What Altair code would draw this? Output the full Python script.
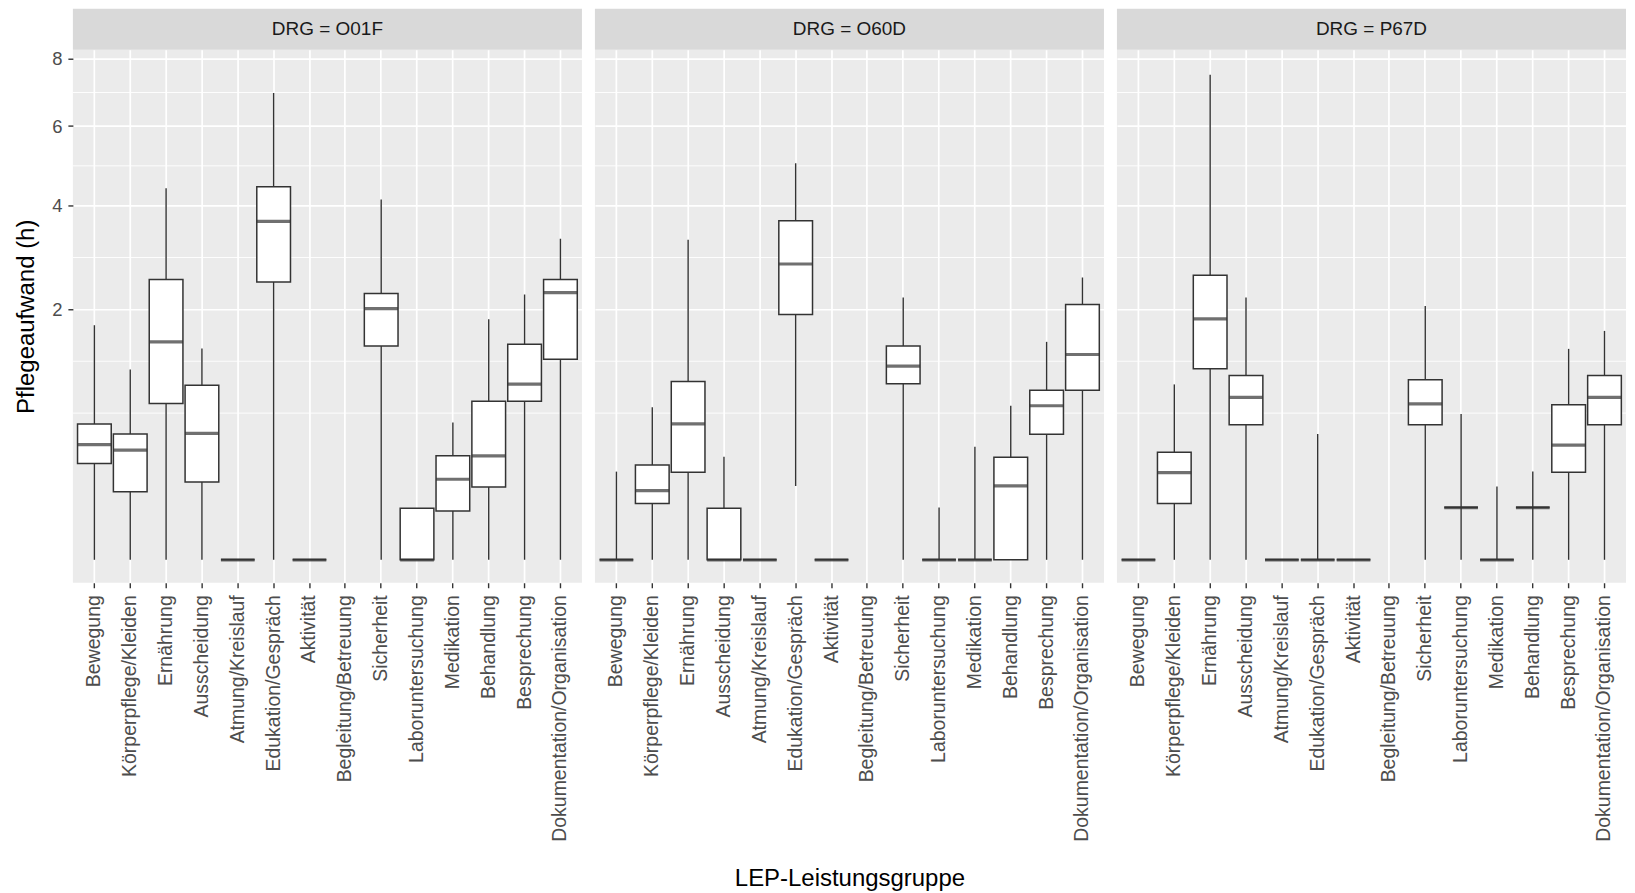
import math
import altair as alt
import pandas as pd

# ---------------- data (hours) ----------------
categories = ["Bewegung", "Körperpflege/Kleiden", "Ernährung", "Ausscheidung",
              "Atmung/Kreislauf", "Edukation/Gespräch", "Aktivität",
              "Begleitung/Betreuung", "Sicherheit", "Laboruntersuchung",
              "Medikation", "Behandlung", "Besprechung",
              "Dokumentation/Organisation"]
drgs = ["O01F", "O60D", "P67D"]

o01f_lo = [0, 0, 0, 0, 0, 0, 0, None, 0, 0, 0, 0, 0, 0]
o01f_q1 = [0.295, 0.148, 0.780, 0.193, 0, 2.461, 0, None, 1.459, 0, 0.076, 0.169, 0.801, 1.284]
o01f_med = [0.423, 0.384, 1.515, 0.510, 0, 3.652, 0, None, 2.013, 0, 0.207, 0.344, 0.984, 2.277]
o01f_q3 = [0.588, 0.504, 2.504, 0.973, 0, 4.440, 0, None, 2.260, 0.085, 0.346, 0.801, 1.483, 2.504]
o01f_hi = [1.755, 1.156, 4.400, 1.424, 0, 6.950, 0, None, 4.140, 0.085, 0.602, 1.846, 2.243, 3.288]

o60d_lo = [0, 0, 0, 0, 0, 0.174, 0, None, 0, 0, 0, 0, 0, 0]
o60d_q1 = [0, 0.101, 0.244, 0, 0, 1.918, 0, None, 0.988, 0, 0, 0, 0.502, 0.918]
o60d_med = [0, 0.153, 0.590, 0, 0, 2.790, 0, None, 1.196, 0, 0, 0.174, 0.757, 1.344]
o60d_q3 = [0, 0.287, 1.015, 0.085, 0, 3.667, 0, None, 1.459, 0, 0, 0.335, 0.918, 2.077]
o60d_hi = [0.248, 0.741, 3.268, 0.339, 0, 5.016, 0, None, 2.193, 0.087, 0.408, 0.757, 1.515, 2.540]

p67d_lo = [0, 0, 0, 0, 0, 0, 0, None, 0, 0, 0, 0, 0, 0]
p67d_q1 = [0, 0.101, 1.163, 0.582, 0, 0, 0, None, 0.582, 0.087, 0, 0.087, 0.244, 0.582]
p67d_med = [0, 0.242, 1.850, 0.841, 0, 0, 0, None, 0.776, 0.087, 0, 0.087, 0.420, 0.841]
p67d_q3 = [0, 0.369, 2.581, 1.084, 0, 0, 0, None, 1.033, 0.087, 0, 0.087, 0.766, 1.084]
p67d_hi = [0, 0.981, 7.505, 2.193, 0, 0.504, 0, None, 2.055, 0.677, 0.171, 0.248, 1.419, 1.671]

y_breaks = [2, 4, 6, 8]

series = {
    "O01F": (o01f_lo, o01f_q1, o01f_med, o01f_q3, o01f_hi),
    "O60D": (o60d_lo, o60d_q1, o60d_med, o60d_q3, o60d_hi),
    "P67D": (p67d_lo, p67d_q1, p67d_med, p67d_q3, p67d_hi),
}

rows = []
for d in drgs:
    lo, q1, med, q3, hi = series[d]
    for i, c in enumerate(categories):
        if med[i] is None:
            continue
        rows.append({"DRG": d, "cat": c, "lo": lo[i], "q1": q1[i],
                     "med": med[i], "q3": q3[i], "hi": hi[i]})
df = pd.DataFrame(rows)

# ggplot-style minor grid breaks (midpoints in sqrt space, extended once below)
s = [math.sqrt(b) for b in y_breaks]
ext = [s[0] - (s[1] - s[0])] + s
minor = [ext[0] ** 2] + [((a + b) / 2) ** 2 for a, b in zip(ext[:-1], ext[1:])]
minor_df = pd.DataFrame({"g": minor})

# ---------------- styling ----------------
W = 510
H = 534
STRIP = 41
FONT = "Liberation Sans"
LINE = "#333333"
step = W / (len(categories) - 0.06 + 2 * 0.13)
box_w = step * 0.94

yscale = alt.Scale(type="sqrt", domain=[-0.01681, 8.297], nice=False, zero=False)
xscale = alt.Scale(domain=categories, paddingInner=0.06, paddingOuter=0.13)


def panel(drg, first, with_title):
    if first:
        yaxis = alt.Axis(values=y_breaks, title="Pflegeaufwand (h)", titleFontSize=24,
                         titleFontWeight="normal", titleColor="black", titlePadding=13,
                         labelFontSize=18.5, labelColor="#4D4D4D", labelPadding=6,
                         tickColor=LINE, tickSize=5, tickWidth=1.4, domain=False,
                         grid=True, gridColor="white", gridWidth=1.7)
    else:
        yaxis = alt.Axis(values=y_breaks, title=None, labels=False, ticks=False,
                         domain=False, grid=True, gridColor="white", gridWidth=1.7)
    xaxis = alt.Axis(title="LEP-Leistungsgruppe" if with_title else None,
                     titleFontSize=24, titleFontWeight="normal", titleColor="black",
                     titleY=296, titleBaseline="middle",
                     labelAngle=-90, labelFontSize=19.5, labelColor="#4D4D4D",
                     labelPadding=7, labelLimit=500, tickColor=LINE, tickSize=5,
                     tickWidth=1.4, domain=False, grid=True, gridColor="white",
                     gridWidth=1.7, bandPosition=0.5)

    x = alt.X("cat:N", scale=xscale, sort=categories, axis=xaxis)
    base = alt.Chart(df[df["DRG"] == drg])

    minor_grid = alt.Chart(minor_df).mark_rule(color="white", strokeWidth=0.9).encode(
        y=alt.Y("g:Q", scale=yscale, axis=yaxis))
    whisk = base.mark_rule(color=LINE, strokeWidth=1.4).encode(
        x=x, y=alt.Y("lo:Q", scale=yscale, axis=yaxis), y2="hi:Q")
    box = base.mark_bar(fill="white", stroke=LINE, strokeWidth=1.5).encode(
        x=x, y=alt.Y("q1:Q", scale=yscale, axis=yaxis), y2="q3:Q")
    med = base.mark_tick(color=LINE, thickness=3.2, size=box_w).encode(
        x=x, y=alt.Y("med:Q", scale=yscale, axis=yaxis))

    strip_df = pd.DataFrame({"t": [f"DRG = {drg}"]})
    strip_bg = alt.Chart(strip_df).mark_rect(fill="#D9D9D9").encode(
        x=alt.value(0), x2=alt.value(W), y=alt.value(-STRIP), y2=alt.value(0))
    strip_tx = alt.Chart(strip_df).mark_text(
        font=FONT, fontSize=19, color="#1A1A1A", baseline="middle", align="center"
    ).encode(x=alt.value(W / 2), y=alt.value(-STRIP / 2), text="t:N")

    return alt.layer(minor_grid, whisk, box, med, strip_bg, strip_tx).properties(
        width=W, height=H)


chart = alt.hconcat(
    panel("O01F", True, False),
    panel("O60D", False, True),
    panel("P67D", False, False),
    spacing=11,
).properties(
    padding={"left": 6, "top": 0, "right": 0, "bottom": 0},
    background="white",
).configure(font=FONT).configure_view(fill="#EBEBEB", stroke=None)

chart.save("out.html", embed_options={"renderer": "svg", "actions": False})
